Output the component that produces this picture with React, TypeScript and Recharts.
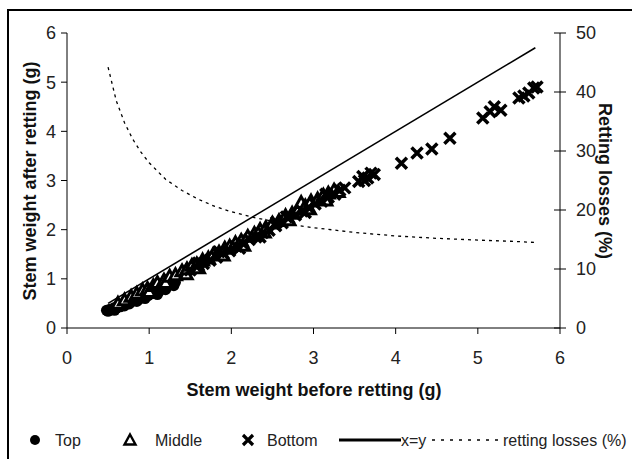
import React from 'react';
import { Scatter, ScatterChart, XAxis, YAxis } from 'recharts';

// stem weight before (x) / after (y) retting, grams
const topPoints = [
    [0.48, 0.36], [0.5, 0.34], [0.52, 0.38], [0.55, 0.37], [0.57, 0.41], [0.58, 0.36],
    [0.6, 0.4], [0.62, 0.44], [0.65, 0.43], [0.68, 0.47], [0.7, 0.45], [0.7, 0.5],
    [0.73, 0.5], [0.76, 0.49], [0.78, 0.54], [0.81, 0.55], [0.84, 0.58], [0.85, 0.54],
    [0.87, 0.57], [0.9, 0.63], [0.93, 0.62], [0.95, 0.6], [0.96, 0.67], [0.99, 0.66],
    [1.02, 0.71], [1.05, 0.7], [1.08, 0.76], [1.1, 0.68], [1.12, 0.74], [1.15, 0.8],
    [1.19, 0.83], [1.2, 0.78], [1.23, 0.85], [1.27, 0.9], [1.3, 0.86], [1.32, 0.93]
];

const middlePoints = [
    [0.62, 0.5], [0.7, 0.57], [0.78, 0.64], [0.85, 0.7], [0.92, 0.77], [0.98, 0.8],
    [1.0, 0.74], [1.05, 0.86], [1.1, 0.92], [1.18, 0.97], [1.2, 0.92], [1.25, 1.05],
    [1.32, 1.08], [1.4, 1.16], [1.45, 1.1], [1.46, 1.2], [1.52, 1.27], [1.58, 1.3],
    [1.6, 1.22], [1.65, 1.38], [1.72, 1.42], [1.78, 1.5], [1.85, 1.54], [1.9, 1.48],
    [1.92, 1.62], [1.98, 1.66], [2.05, 1.73], [2.12, 1.78], [2.15, 1.68], [2.2, 1.86],
    [2.28, 1.92], [2.35, 2.0], [2.4, 1.95], [2.42, 2.04], [2.5, 2.13], [2.58, 2.18],
    [2.66, 2.28], [2.7, 2.2], [2.74, 2.33], [2.82, 2.42], [2.85, 2.55], [2.9, 2.48],
    [2.95, 2.42], [2.97, 2.58], [3.05, 2.62], [3.12, 2.7], [3.15, 2.6], [3.18, 2.74],
    [3.25, 2.8], [3.3, 2.77]
];

const bottomPoints = [
    [1.5, 1.18], [1.58, 1.24], [1.6, 1.32], [1.66, 1.31], [1.74, 1.38], [1.82, 1.44],
    [1.85, 1.55], [1.9, 1.52], [1.98, 1.57], [2.06, 1.66], [2.1, 1.62], [2.14, 1.72],
    [2.22, 1.8], [2.3, 1.85], [2.35, 1.85], [2.38, 1.94], [2.46, 1.99], [2.54, 2.08],
    [2.55, 2.15], [2.62, 2.14], [2.67, 2.26], [2.7, 2.24], [2.78, 2.3], [2.86, 2.38],
    [2.9, 2.35], [2.94, 2.45], [3.02, 2.52], [3.1, 2.58], [3.15, 2.72], [3.18, 2.66],
    [3.26, 2.72], [3.32, 2.8], [3.38, 2.85], [3.55, 2.98], [3.6, 3.08], [3.62, 3.0],
    [3.66, 3.05], [3.7, 3.15], [3.74, 3.12], [4.07, 3.35], [4.26, 3.56], [4.44, 3.64],
    [4.66, 3.86], [5.06, 4.27], [5.15, 4.4], [5.2, 4.5], [5.28, 4.43], [5.5, 4.68],
    [5.56, 4.72], [5.62, 4.78], [5.68, 4.88], [5.72, 4.9]
];

const identityLine = [[0.5, 0.5], [5.7, 5.7]];

// retting losses (%) against stem weight before retting
const lossX = [0.5, 0.6, 0.7, 0.8, 0.9, 1.0, 1.2, 1.4, 1.6, 1.8, 2.0, 2.25, 2.5, 2.75, 3.0, 3.5, 4.0, 4.5, 5.0, 5.4, 5.7];
const lossY = [44.2, 38.5, 34.8, 32.0, 29.8, 28.0, 25.2, 23.3, 21.8, 20.6, 19.7, 18.8, 18.1, 17.5, 17.0, 16.2, 15.6, 15.2, 14.9, 14.7, 14.5];

const xTicks = [0, 1, 2, 3, 4, 5, 6];
const leftTicks = [0, 1, 2, 3, 4, 5, 6];
const rightTicks = [0, 10, 20, 30, 40, 50];

const FONT = '"Liberation Sans", Arial, Helvetica, sans-serif';
const TICK_FILL = '#222';

const toXY = (pts: number[][]) => pts.map(([x, y]) => ({ x, y }));
const lossData = lossX.map((x, i) => ({ x, y: lossY[i] }));

const Dot = (props: any) => <circle cx={props.cx} cy={props.cy} r={5.5} fill="#000" />;

const Tri = (props: any) => {
    const { cx, cy } = props;
    const s = 6;
    return (
        <polygon
            points={`${cx},${cy - s} ${cx + s},${cy + s * 0.8} ${cx - s},${cy + s * 0.8}`}
            fill="#fff"
            stroke="#000"
            strokeWidth={3}
        />
    );
};

const Cross = (props: any) => {
    const { cx, cy } = props;
    const s = 5.5;
    return (
        <path
            d={`M${cx - s},${cy - s}L${cx + s},${cy + s}M${cx - s},${cy + s}L${cx + s},${cy - s}`}
            stroke="#000"
            strokeWidth={3.5}
        />
    );
};

const NoShape = () => <g />;

const RightTick = (props: any) => {
    const { x, y, payload } = props;
    return (
        <g>
            <line x1={x - 20} y1={y} x2={x - 8} y2={y} stroke="#000" strokeWidth={1} />
            <text x={x + 2} y={y} dy="0.355em" textAnchor="start" fontSize={18} fill={TICK_FILL} fontFamily={FONT}>
                {payload.value}
            </text>
        </g>
    );
};

export default function App() {
    return (
        <div style={{ position: 'absolute', left: 0, top: 0, width: 632, height: 459, overflow: 'hidden', background: '#fff', fontFamily: FONT }}>
            <div style={{ position: 'absolute', left: 7, top: 9, width: 700, height: 500, border: '2px solid #000' }} />
            <div style={{ position: 'absolute', left: 0, top: 0 }}>
                <ScatterChart width={632} height={459} margin={{ top: 33, right: 22, left: 17, bottom: 101 }}>
                    <XAxis
                        type="number"
                        dataKey="x"
                        domain={[0, 6]}
                        ticks={xTicks}
                        tickSize={6}
                        tickMargin={17}
                        height={30}
                        stroke="#000"
                        tick={{ fontSize: 18, fill: TICK_FILL, fontFamily: FONT }}
                    />
                    <YAxis
                        yAxisId="left"
                        type="number"
                        dataKey="y"
                        domain={[0, 6]}
                        ticks={leftTicks}
                        tickSize={6}
                        tickMargin={5}
                        width={50}
                        stroke="#000"
                        tick={{ fontSize: 18, fill: TICK_FILL, fontFamily: FONT }}
                    />
                    <YAxis
                        yAxisId="right"
                        orientation="right"
                        type="number"
                        dataKey="y"
                        domain={[0, 50]}
                        ticks={rightTicks}
                        tickSize={6}
                        tickMargin={8}
                        tickLine={false}
                        width={50}
                        stroke="#000"
                        tick={<RightTick />}
                    />
                    <Scatter
                        yAxisId="right"
                        data={lossData}
                        shape={NoShape}
                        line={{ stroke: '#000', strokeWidth: 1.3, strokeDasharray: '3 4' }}
                        isAnimationActive={false}
                    />
                    <Scatter
                        yAxisId="left"
                        data={toXY(identityLine)}
                        shape={NoShape}
                        line={{ stroke: '#000', strokeWidth: 1.6 }}
                        isAnimationActive={false}
                    />
                    <Scatter yAxisId="left" data={toXY(topPoints)} shape={Dot} isAnimationActive={false} />
                    <Scatter yAxisId="left" data={toXY(middlePoints)} shape={Tri} isAnimationActive={false} />
                    <Scatter yAxisId="left" data={toXY(bottomPoints)} shape={Cross} isAnimationActive={false} />
                </ScatterChart>
            </div>

            {/* axis titles */}
            <div style={{ position: 'absolute', left: 314, top: 390, transform: 'translate(-50%, -50%)', fontSize: 18, fontWeight: 'bold', whiteSpace: 'nowrap', color: '#111' }}>
                Stem weight before retting (g)
            </div>
            <div style={{ position: 'absolute', left: 30, top: 181, transform: 'translate(-50%, -50%) rotate(-90deg)', fontSize: 18, fontWeight: 'bold', whiteSpace: 'nowrap', color: '#111' }}>
                Stem weight after retting (g)
            </div>
            <div style={{ position: 'absolute', left: 604, top: 181, transform: 'translate(-50%, -50%) rotate(90deg)', fontSize: 18, fontWeight: 'bold', whiteSpace: 'nowrap', color: '#111' }}>
                Retting losses (%)
            </div>

            {/* legend */}
            <svg style={{ position: 'absolute', left: 0, top: 425 }} width={632} height={30}>
                <g fontSize={16} fill="#222" fontFamily={FONT}>
                    <circle cx={35} cy={15} r={5} fill="#000" />
                    <text x={55} y={21}>Top</text>
                    <polygon points="130,9.5 135.5,19.5 124.5,19.5" fill="#fff" stroke="#000" strokeWidth={2.4} />
                    <text x={155} y={21}>Middle</text>
                    <path d="M243,10L253,20M243,20L253,10" stroke="#000" strokeWidth={3.2} />
                    <text x={267} y={21}>Bottom</text>
                    <line x1={339} y1={15} x2={401} y2={15} stroke="#000" strokeWidth={3} />
                    <text x={401} y={21}>x=y</text>
                    <line x1={432} y1={15} x2={498} y2={15} stroke="#000" strokeWidth={1.5} strokeDasharray="3 6" />
                    <text x={503} y={21}>retting losses (%)</text>
                </g>
            </svg>
        </div>
    );
}
